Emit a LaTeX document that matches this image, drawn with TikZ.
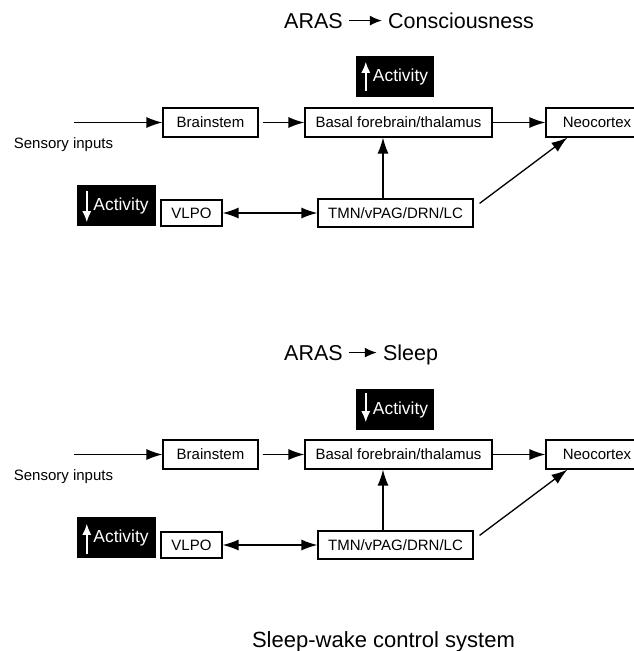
\documentclass[tikz,border=0pt]{standalone}
\usepackage{fontspec}
\setmainfont{Liberation Sans}
\usetikzlibrary{arrows.meta}
\begin{document}
\begin{tikzpicture}[x=1pt,y=-1pt,
  box/.style={draw,line width=1.2pt,inner sep=0,minimum height=29pt,font=\fontsize{15}{18}\selectfont},
  act/.style={fill=black,text=white,inner sep=0,minimum width=78pt,minimum height=41pt,font=\fontsize{17.4}{20}\selectfont},
  arr/.style={line width=1.3pt,-{Latex[length=16pt,width=11pt]}},
  darr/.style={line width=1.3pt,{Latex[length=16pt,width=11pt]}-{Latex[length=16pt,width=11pt]}},
  warr/.style={white,line width=1.5pt,-{Latex[length=11pt,width=9pt]}},
  ttl/.style={inner sep=0,anchor=base,font=\fontsize{21.5}{24}\selectfont},
  tarr/.style={line width=1.5pt,-{Latex[length=12pt,width=10pt]}},
  lbl/.style={inner sep=0,font=\fontsize{15}{18}\selectfont}]
\useasboundingbox (0,0) rectangle (634,651);

% ---------------- top panel ----------------
\node[ttl] (ta1) at (313.5,28) {ARAS};
\node[ttl] (tb1) at (461,28) {Consciousness};
\draw[tarr,shorten <=6pt,shorten >=6pt] (ta1.east) -- (ta1.east -| tb1.west);

\node[act] (au1) at (395,76.5) {\hspace*{11pt}Activity};
\draw[warr] ([xshift=10pt,yshift=6pt]au1.south west) -- ([xshift=10pt,yshift=-6pt]au1.north west);

\coordinate (s1) at (74,122.5);
\node[lbl] (si1) at (63.5,145) {Sensory inputs};
\node[box,minimum width=95pt] (bs1) at (210.5,122.5) {Brainstem};
\node[box,minimum width=187pt] (bf1) at (398.5,122.5) {Basal forebrain/thalamus};
\node[box,minimum width=102pt] (nc1) at (597,122.5) {Neocortex};
\node[box,minimum width=155pt,minimum height=28pt] (tmn1) at (395.5,213) {TMN/vPAG/DRN/LC};
\node[box,minimum width=61pt,minimum height=26pt] (vl1) at (191.5,213) {VLPO};
\node[act,minimum width=79pt] (ad1) at (116.5,205.5) {\hspace*{9pt}Activity};
\draw[warr] ([xshift=10pt,yshift=-6pt]ad1.north west) -- ([xshift=10pt,yshift=4pt]ad1.south west);

\draw[arr] (s1) -- (bs1.west);
\draw[arr,shorten <=4pt] (bs1.east) -- (bf1.west);
\draw[arr] (bf1.east) -- (nc1.west);
\draw[arr] ([xshift=-12.5pt]tmn1.north) -- ([xshift=-12.5pt]tmn1.north |- bf1.south);
\draw[arr] ([xshift=6pt,yshift=-5pt]tmn1.north east) -- ([xshift=22pt]nc1.south west);
\draw[darr] (vl1.east) -- (tmn1.west);

% ---------------- bottom panel ----------------
\node[ttl] (ta2) at (313.5,360) {ARAS};
\node[ttl] (tb2) at (410.5,360) {Sleep};
\draw[tarr,shorten <=6pt,shorten >=6pt] (ta2.east) -- (ta2.east -| tb2.west);

\node[act] (au2) at (395,409.5) {\hspace*{11pt}Activity};
\draw[warr] ([xshift=10pt,yshift=-4pt]au2.north west) -- ([xshift=10pt,yshift=8pt]au2.south west);

\coordinate (s2) at (74,454.5);
\node[lbl] (si2) at (63.5,477) {Sensory inputs};
\node[box,minimum width=95pt] (bs2) at (210.5,454.5) {Brainstem};
\node[box,minimum width=187pt] (bf2) at (398.5,454.5) {Basal forebrain/thalamus};
\node[box,minimum width=102pt] (nc2) at (597,454.5) {Neocortex};
\node[box,minimum width=155pt,minimum height=28pt] (tmn2) at (395.5,545) {TMN/vPAG/DRN/LC};
\node[box,minimum width=61pt,minimum height=26pt] (vl2) at (191.5,545) {VLPO};
\node[act,minimum width=79pt] (ad2) at (116.5,537.5) {\hspace*{9pt}Activity};
\draw[warr] ([xshift=10pt,yshift=4pt]ad2.south west) -- ([xshift=10pt,yshift=-7pt]ad2.north west);

\draw[arr] (s2) -- (bs2.west);
\draw[arr,shorten <=4pt] (bs2.east) -- (bf2.west);
\draw[arr] (bf2.east) -- (nc2.west);
\draw[arr] ([xshift=-12.5pt]tmn2.north) -- ([xshift=-12.5pt]tmn2.north |- bf2.south);
\draw[arr] ([xshift=6pt,yshift=-5pt]tmn2.north east) -- ([xshift=22pt]nc2.south west);
\draw[darr] (vl2.east) -- (tmn2.west);

% ---------------- caption ----------------
\node[ttl,font=\fontsize{22}{25}\selectfont] (cap) at (383.5,647) {Sleep-wake control system};
\end{tikzpicture}
\end{document}
